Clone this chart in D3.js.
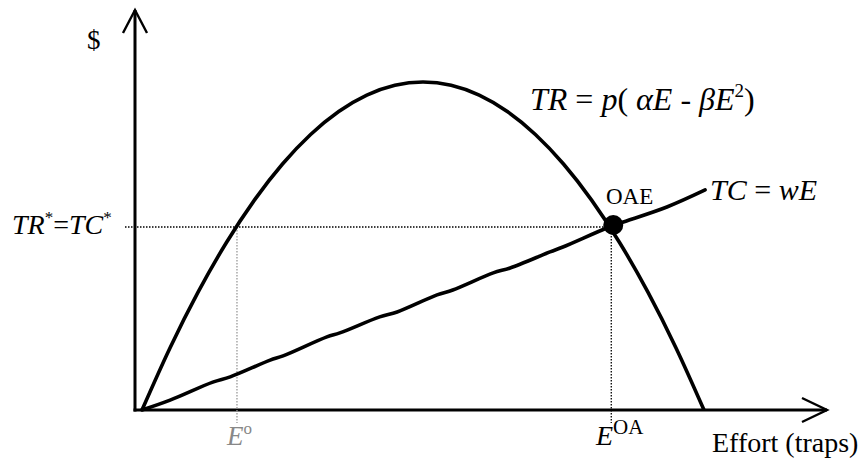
<!DOCTYPE html>
<html>
<head>
<meta charset="utf-8">
<script src="https://cdn.jsdelivr.net/npm/d3@7"></script>
<style>
  body { margin: 0; background: #fff; }
  svg text { font-family: "Liberation Serif", "Times New Roman", serif; fill: #000; }
</style>
</head>
<body>
<svg id="chart" width="868" height="460"></svg>
<script>
// effort levels (arbitrary units) and total revenue
var effortTR = [0, 0.5, 1, 1.5, 2, 2.5, 3, 3.5, 4, 4.5, 5, 5.5, 6, 6.5, 7, 7.5, 8, 8.5, 9, 9.5, 10];
var revenue  = [0, 19, 36, 51, 64, 75, 84, 91, 96, 99, 100, 99, 96, 91, 84, 75, 64, 51, 36, 19, 0];
// total cost line, slightly hand-drawn
var effortTC = [0, 0.5, 1.26, 1.57, 2.28, 2.51, 3.29, 3.52, 4.23, 4.54, 5.25, 5.53, 6.25, 6.55, 7.26, 7.49, 8.27, 8.51, 9.34, 10.02];
var cost     = [0, 3.0, 8.5, 10.1, 15.2, 16.5, 22.3, 23.5, 28.4, 29.9, 35.1, 36.6, 41.8, 43.3, 48.2, 49.7, 55.5, 57.0, 61.9, 67.1];
// key points
var eOpt = 1.69, eOA = 8.35, trStar = 55.8;

var svg = d3.select("#chart");
var x = d3.scaleLinear().domain([0, 10]).range([142, 704]);
var y = d3.scaleLinear().domain([0, 100]).range([410, 82]);

var x0 = 135, xEnd = 827, y0 = 410, yEnd = 10;

// axes with open arrow heads
svg.append("line").attr("x1", x0).attr("y1", y0 + 1.5).attr("x2", x0).attr("y2", yEnd)
    .attr("stroke", "#000").attr("stroke-width", 3);
svg.append("line").attr("x1", x0 - 1.5).attr("y1", y0).attr("x2", xEnd).attr("y2", y0)
    .attr("stroke", "#000").attr("stroke-width", 3);
svg.append("path").attr("d", "M" + (x0 - 12) + "," + (yEnd + 23) + "L" + x0 + "," + yEnd + "L" + (x0 + 12) + "," + (yEnd + 23))
    .attr("fill", "none").attr("stroke", "#000").attr("stroke-width", 2.4);
svg.append("path").attr("d", "M" + (xEnd - 25) + "," + (y0 - 12) + "L" + xEnd + "," + y0 + "L" + (xEnd - 25) + "," + (y0 + 12))
    .attr("fill", "none").attr("stroke", "#000").attr("stroke-width", 2.4);

// dotted guides
svg.append("line").attr("x1", 125).attr("y1", y(trStar)).attr("x2", x(eOA)).attr("y2", y(trStar))
    .attr("stroke", "#000").attr("stroke-width", 1.3).attr("stroke-dasharray", "1.5,1.5");
svg.append("line").attr("x1", x(eOpt)).attr("y1", y(trStar)).attr("x2", x(eOpt)).attr("y2", y0 + 13)
    .attr("stroke", "#999").attr("stroke-width", 1.3).attr("stroke-dasharray", "1.5,1.5");
svg.append("line").attr("x1", x(eOA)).attr("y1", y(trStar)).attr("x2", x(eOA)).attr("y2", y0 + 13)
    .attr("stroke", "#000").attr("stroke-width", 1.3).attr("stroke-dasharray", "1.5,1.5");

// curves
var trLine = d3.line()
    .x(function (d, i) { return x(effortTR[i]); })
    .y(function (d) { return y(d); })
    .curve(d3.curveCardinal);
svg.append("path").datum(revenue).attr("d", trLine)
    .attr("fill", "none").attr("stroke", "#000").attr("stroke-width", 3.6);

var tcLine = d3.line()
    .x(function (d, i) { return x(effortTC[i]); })
    .y(function (d) { return y(d); })
    .curve(d3.curveCatmullRom);
svg.append("path").datum(cost).attr("d", tcLine)
    .attr("fill", "none").attr("stroke", "#000").attr("stroke-width", 3.6)
    .attr("stroke-linecap", "round");

// open access equilibrium
svg.append("circle").attr("cx", x(eOA) + 2).attr("cy", y(trStar) - 2).attr("r", 10).attr("fill", "#000");

// labels
svg.append("text").attr("x", 87).attr("y", 49).attr("font-size", 27).text("$");

var t1 = svg.append("text").attr("x", 12).attr("y", 234).attr("font-size", 28).attr("font-style", "italic");
t1.append("tspan").text("TR");
t1.append("tspan").attr("dy", -11).attr("font-size", 17).attr("font-style", "normal").text("*");
t1.append("tspan").attr("dy", 11).attr("font-style", "normal").text("=");
t1.append("tspan").text("TC");
t1.append("tspan").attr("dy", -11).attr("font-size", 17).attr("font-style", "normal").text("*");

var t2 = svg.append("text").attr("x", 530).attr("y", 110).attr("font-size", 32).attr("font-style", "italic");
t2.append("tspan").text("TR");
t2.append("tspan").attr("font-style", "normal").text(" = ");
t2.append("tspan").text("p");
t2.append("tspan").attr("font-style", "normal").text("( ");
t2.append("tspan").text("\u03B1E");
t2.append("tspan").attr("font-style", "normal").text(" - ");
t2.append("tspan").text("\u03B2E");
t2.append("tspan").attr("dy", -13).attr("font-size", 19).attr("font-style", "normal").text("2");
t2.append("tspan").attr("dy", 13).attr("font-style", "normal").text(")");

var t3 = svg.append("text").attr("x", 710).attr("y", 200).attr("font-size", 30).attr("font-style", "italic");
t3.append("tspan").text("TC");
t3.append("tspan").attr("font-style", "normal").text(" = ");
t3.append("tspan").text("wE");

svg.append("text").attr("x", 606).attr("y", 204).attr("font-size", 23).text("OAE");

var t4 = svg.append("text").attr("x", 227).attr("y", 445).attr("font-size", 27).attr("font-style", "italic").style("fill", "#888");
t4.append("tspan").text("E");
t4.append("tspan").attr("dy", -11).attr("font-size", 17).attr("font-style", "normal").style("fill", "#888").text("o");

var t5 = svg.append("text").attr("x", 596).attr("y", 445).attr("font-size", 28).attr("font-style", "italic");
t5.append("tspan").text("E");
t5.append("tspan").attr("dy", -11).attr("font-size", 21).attr("font-style", "normal").text("OA");

svg.append("text").attr("x", 712).attr("y", 452).attr("font-size", 28).text("Effort (traps)");
</script>
</body>
</html>
